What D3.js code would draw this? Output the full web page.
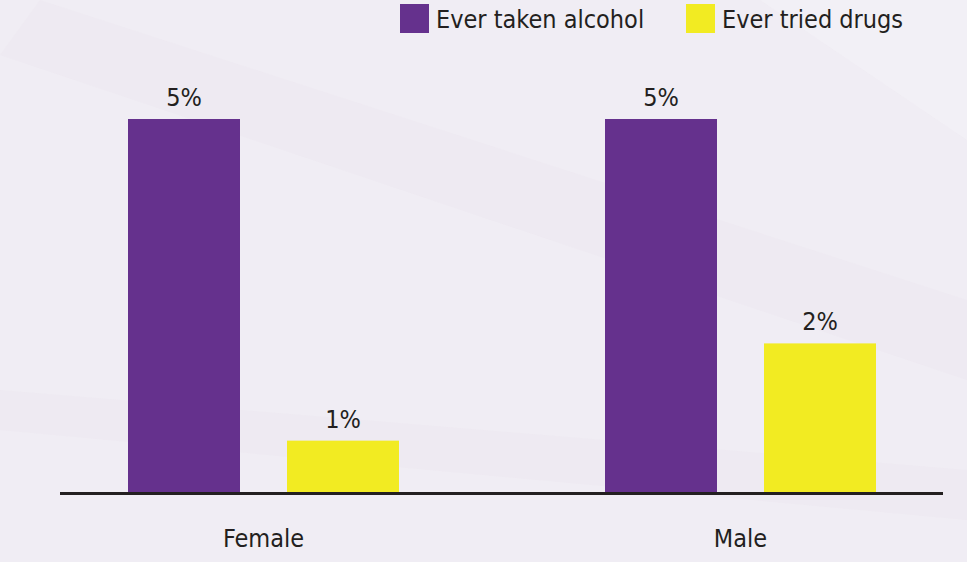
<!DOCTYPE html>
<html>
<head>
<meta charset="utf-8">
<script src="https://cdn.jsdelivr.net/npm/d3@7"></script>
<style>
  html, body { margin: 0; padding: 0; background: #f0edf4; }
  svg { display: block; }
  text { font-family: "DejaVu Sans Condensed", "DejaVu Sans", Verdana, sans-serif; font-stretch: condensed; fill: #231f20; }
</style>
</head>
<body>
<div id="chart"></div>
<script>
// chart data
var categories = ["Female", "Male"];
var seriesNames = ["Ever taken alcohol", "Ever tried drugs"];
var alcoholValues = [5.0, 5.0];
var drugValues = [0.7, 2.0];
var seriesColors = ["#65318d", "#f2eb22"];

var width = 967, height = 562;
var baseY = 493;

var svg = d3.select("#chart").append("svg")
    .attr("width", width)
    .attr("height", height);

// faint diagonal bands in the background
var bands = [
    [[40, 0], [967, 300], [967, 380], [0, 55]],
    [[0, 390], [967, 470], [967, 520], [0, 430]],
    [[760, 0], [967, 0], [967, 140]]
];
svg.selectAll("polygon.band")
    .data(bands)
    .enter()
    .append("polygon")
    .attr("class", "band")
    .attr("points", function(d) { return d.map(function(p) { return p.join(","); }).join(" "); })
    .attr("fill", function(d, i) { return i == 2 ? "#f4f2f7" : "#ece8f0"; })
    .attr("opacity", 0.6);

// build rows for grouped bars
var rows = categories.map(function(c, i) {
    return { category: c, values: [alcoholValues[i], drugValues[i]] };
});

var x0 = d3.scaleBand()
    .domain(categories)
    .range([25, 979]);

var x1 = d3.scaleBand()
    .domain(seriesNames)
    .range([103, 374])
    .paddingInner(0.2956)
    .paddingOuter(0);

var y = d3.scaleLinear()
    .domain([0, 5])
    .range([baseY, 119]);

var groups = svg.selectAll("g.group")
    .data(rows)
    .enter()
    .append("g")
    .attr("class", "group")
    .attr("transform", function(d) { return "translate(" + x0(d.category) + ",0)"; });

groups.selectAll("rect")
    .data(function(d) { return d.values.map(function(v, i) { return { name: seriesNames[i], value: v, idx: i }; }); })
    .enter()
    .append("rect")
    .attr("x", function(d) { return x1(d.name); })
    .attr("y", function(d) { return y(d.value); })
    .attr("width", x1.bandwidth())
    .attr("height", function(d) { return baseY - y(d.value); })
    .attr("fill", function(d) { return seriesColors[d.idx]; });

groups.selectAll("text.val")
    .data(function(d) { return d.values.map(function(v, i) { return { name: seriesNames[i], value: v }; }); })
    .enter()
    .append("text")
    .attr("class", "val")
    .attr("x", function(d) { return x1(d.name) + x1.bandwidth() / 2; })
    .attr("y", function(d) { return y(d.value) - 13; })
    .attr("text-anchor", "middle")
    .style("font-size", "25px")
    .text(function(d) { return Math.round(d.value) + "%"; });

// baseline
svg.append("line")
    .attr("x1", 60).attr("x2", 943)
    .attr("y1", baseY + 0.5).attr("y2", baseY + 0.5)
    .attr("stroke", "#231f20")
    .attr("stroke-width", 3);

// category labels
svg.selectAll("text.cat")
    .data(categories)
    .enter()
    .append("text")
    .attr("class", "cat")
    .attr("x", function(d) { return x0(d) + x1.range()[0] + (x1.range()[1] - x1.range()[0]) / 2; })
    .attr("y", 547)
    .attr("text-anchor", "middle")
    .style("font-size", "25px")
    .text(function(d) { return d; });

// legend
var legendX = [400, 686];
var legend = svg.selectAll("g.legend")
    .data(seriesNames)
    .enter()
    .append("g")
    .attr("class", "legend")
    .attr("transform", function(d, i) { return "translate(" + legendX[i] + ",4)"; });

legend.append("rect")
    .attr("width", 29)
    .attr("height", 29)
    .attr("fill", function(d, i) { return seriesColors[i]; });

legend.append("text")
    .attr("x", 36)
    .attr("y", 24)
    .style("font-size", "25px")
    .text(function(d) { return d; });
</script>
</body>
</html>
